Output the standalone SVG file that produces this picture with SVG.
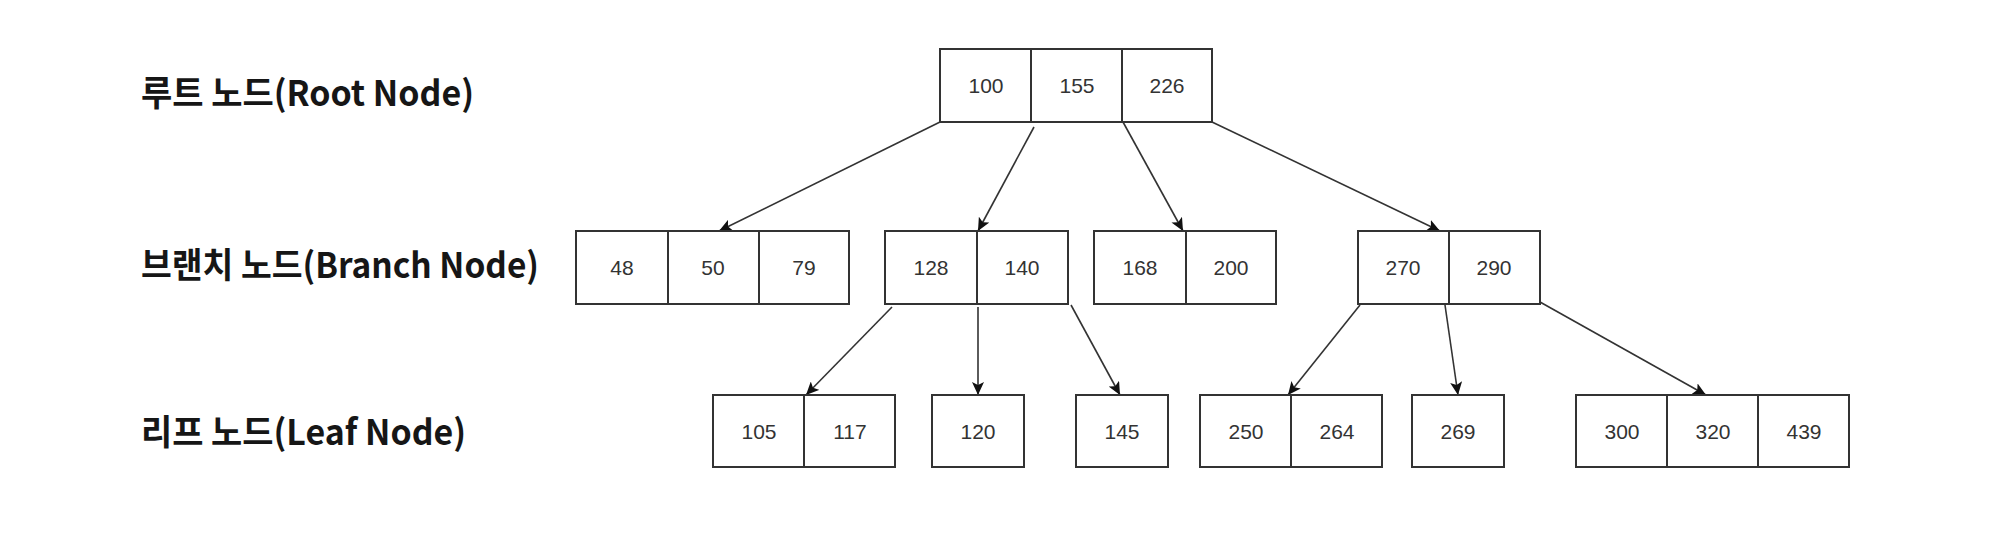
<svg xmlns="http://www.w3.org/2000/svg" width="2000" height="538" viewBox="0 0 2000 538">
<defs>
<style>
.box{fill:#fff;stroke:#333;stroke-width:2}
.div{stroke:#333;stroke-width:2}
.num{font-family:"Liberation Sans",Arial,sans-serif;font-size:21px;fill:#333;text-anchor:middle}
.lbl{font-family:"Noto Sans CJK KR","Noto Sans",sans-serif;font-size:35px;font-weight:700;fill:#161616}
.edge{stroke:#333;stroke-width:1.6;fill:none;marker-end:url(#arr)}
</style>
<marker id="arr" markerUnits="userSpaceOnUse" markerWidth="14" markerHeight="12" refX="13" refY="6" orient="auto">
<path d="M0,0 L13,6 L0,12 L3,6 z" fill="#111"/>
</marker>
</defs>
<rect width="2000" height="538" fill="#fff"/>
<g id="labels">
<text class="lbl" x="141" y="106" textLength="333" lengthAdjust="spacingAndGlyphs">루트 노드(Root Node)</text>
<text class="lbl" x="141" y="278" textLength="398" lengthAdjust="spacingAndGlyphs">브랜치 노드(Branch Node)</text>
<text class="lbl" x="141" y="445" textLength="325" lengthAdjust="spacingAndGlyphs">리프 노드(Leaf Node)</text>
</g>
<g id="connectors">
<line class="edge" x1="940" y1="122" x2="719" y2="231"/>
<line class="edge" x1="1034" y1="127" x2="978" y2="231"/>
<line class="edge" x1="1123" y1="122" x2="1183" y2="231"/>
<line class="edge" x1="1212" y1="122" x2="1440" y2="231"/>
<line class="edge" x1="892" y1="307" x2="806" y2="395"/>
<line class="edge" x1="978" y1="307" x2="978" y2="395"/>
<line class="edge" x1="1071" y1="305" x2="1120" y2="395"/>
<line class="edge" x1="1360" y1="305" x2="1288" y2="395"/>
<line class="edge" x1="1445" y1="305" x2="1458" y2="395"/>
<line class="edge" x1="1540" y1="302" x2="1706" y2="395"/>
</g>
<g id="root">
<rect class="box" x="940" y="49" width="272" height="73"/>
<line class="div" x1="1031" y1="49" x2="1031" y2="122"/>
<line class="div" x1="1122" y1="49" x2="1122" y2="122"/>
<text class="num" x="986" y="93">100</text>
<text class="num" x="1077" y="93">155</text>
<text class="num" x="1167" y="93">226</text>
</g>
<g id="branch1">
<rect class="box" x="576" y="231" width="273" height="73"/>
<line class="div" x1="668" y1="231" x2="668" y2="304"/>
<line class="div" x1="759" y1="231" x2="759" y2="304"/>
<text class="num" x="622" y="275">48</text>
<text class="num" x="713" y="275">50</text>
<text class="num" x="804" y="275">79</text>
</g>
<g id="branch2">
<rect class="box" x="885" y="231" width="183" height="73"/>
<line class="div" x1="977" y1="231" x2="977" y2="304"/>
<text class="num" x="931" y="275">128</text>
<text class="num" x="1022" y="275">140</text>
</g>
<g id="branch3">
<rect class="box" x="1094" y="231" width="182" height="73"/>
<line class="div" x1="1186" y1="231" x2="1186" y2="304"/>
<text class="num" x="1140" y="275">168</text>
<text class="num" x="1231" y="275">200</text>
</g>
<g id="branch4">
<rect class="box" x="1358" y="231" width="182" height="73"/>
<line class="div" x1="1449" y1="231" x2="1449" y2="304"/>
<text class="num" x="1403" y="275">270</text>
<text class="num" x="1494" y="275">290</text>
</g>
<g id="leaf1">
<rect class="box" x="713" y="395" width="182" height="72"/>
<line class="div" x1="804" y1="395" x2="804" y2="467"/>
<text class="num" x="759" y="439">105</text>
<text class="num" x="850" y="439">117</text>
</g>
<g id="leaf2">
<rect class="box" x="932" y="395" width="92" height="72"/>
<text class="num" x="978" y="439">120</text>
</g>
<g id="leaf3">
<rect class="box" x="1076" y="395" width="92" height="72"/>
<text class="num" x="1122" y="439">145</text>
</g>
<g id="leaf4">
<rect class="box" x="1200" y="395" width="182" height="72"/>
<line class="div" x1="1291" y1="395" x2="1291" y2="467"/>
<text class="num" x="1246" y="439">250</text>
<text class="num" x="1337" y="439">264</text>
</g>
<g id="leaf5">
<rect class="box" x="1412" y="395" width="92" height="72"/>
<text class="num" x="1458" y="439">269</text>
</g>
<g id="leaf6">
<rect class="box" x="1576" y="395" width="273" height="72"/>
<line class="div" x1="1667" y1="395" x2="1667" y2="467"/>
<line class="div" x1="1758" y1="395" x2="1758" y2="467"/>
<text class="num" x="1622" y="439">300</text>
<text class="num" x="1713" y="439">320</text>
<text class="num" x="1804" y="439">439</text>
</g>
</svg>
